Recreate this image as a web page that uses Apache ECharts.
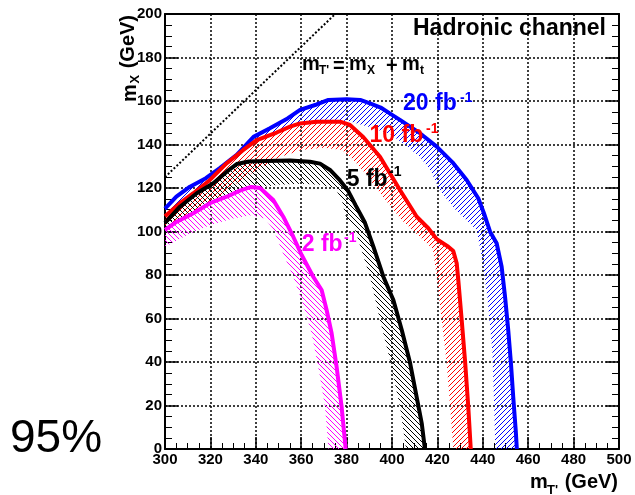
<!DOCTYPE html>
<html>
<head>
<meta charset="utf-8">
<script src="https://cdn.jsdelivr.net/npm/echarts@6/dist/echarts.min.js"></script>
<style>html,body{margin:0;padding:0;background:#fff;}#c{width:635px;height:495px;}</style>
</head>
<body>
<div id="c"></div>
<script>
// ---- data (mT', mX) in GeV ----
const xTicks = [300,320,340,360,380,400,420,440,460,480,500];
const yTicks = [0,20,40,60,80,100,120,140,160,180,200];
const lumiLabels = ['20 fb', '10 fb', '5 fb', '2 fb'];
const mTop = 175; // mT' = mX + mt
const diagLine = [[300, 300 - mTop], [375, 375 - mTop]];

const lim20 = [[300,110.5],[305,116],[311,120.6],[318,124.5],[324,129],[331.6,135.2],[339,143.5],[346,147.4],[354,152],[359.5,155.9],[366.8,158.4],[372,160.5],[380,160.8],[386,160.5],[390.3,158.9],[395,157],[399,154.3],[403.5,151.3],[412.3,145.2],[419.7,139],[427,131.4],[432.9,123.7],[438,115.3],[440.5,108.4],[443.2,99.9],[446.1,94.6],[448.3,83.8],[449.8,70],[451.2,54.7],[452.4,39.4],[453.4,24],[454.5,8.7],[455,0]];
const band20 = [[300,104],[310,110],[320,117],[330,125],[340,133],[350,140],[360,146],[370,149.5],[380,151],[390,148],[399,145],[405,140.5],[412.3,134.4],[417,128],[421,119],[428,110],[434,104],[437.3,100.7],[439.5,88.4],[442,70],[444.2,45],[445,20],[445.5,0]];

const lim10 = [[300,107],[306.6,113],[312.5,117.6],[319.8,123.7],[327.2,131.4],[334.5,137.5],[340.4,142],[349.2,145.5],[355.1,148.2],[359.5,149.7],[366.8,150.5],[377.1,150.5],[381.5,149],[387.4,143.3],[394.7,134.4],[403.5,119.1],[410.9,106.8],[416,101.5],[419.7,96.5],[424.8,93],[427,91],[428.5,85.4],[429.2,77.7],[430.7,59.3],[432.2,40.2],[433.6,19.4],[434.7,0]];
const band10 = [[300,101],[310,106],[320,113],[330,121],[340,128],[350,134],[360,137.5],[370,138.5],[378,137.5],[383,133],[388,127],[396,116],[404.3,105.3],[412.3,97.6],[418,92],[419.7,79.2],[421.9,59.3],[424.1,39.4],[425.6,19.4],[427,0]];

const lim5 = [[300,104],[306.6,111.4],[314,117.6],[321.3,122.2],[327.2,127.5],[331.6,131],[337,132.2],[344.8,132.4],[355.1,132.6],[363.9,132.1],[368.3,131.2],[372.7,128.3],[377.1,123.5],[380.5,119],[384,112],[388.1,104],[391.8,93],[396.2,79.2],[400.6,68.5],[404.3,54.7],[408,39.4],[411.7,19.4],[413.1,11.8],[414.5,0]];
const band5 = [[300,97],[310,104],[320,110],[330,116],[340,120],[350,121.5],[360,122],[368,121.5],[375,120],[378,114],[380,105.3],[383.7,101],[387,90],[390.3,79.2],[394.7,59.3],[399.1,40.9],[403.5,19.4],[406.2,0]];

const lim2 = [[300,100.7],[305.2,104.5],[312.5,108.4],[319.8,113],[327.2,116],[333,118.8],[338,120.5],[341.9,120],[347.7,114.5],[352.1,106.8],[356.5,97.6],[360.2,89.2],[365.3,79.2],[369,73.1],[371.2,63.9],[373.4,53.2],[375.6,37.8],[377.8,19.4],[379.6,0]];
const band2 = [[300,93],[310,98.5],[320,103],[330,106],[338,107.5],[344,106],[347.7,101],[352,90],[356.5,79.2],[361,66],[364.6,53.2],[368,35],[370.5,19.4],[372,0]];

// ---- styling ----
const FONT = "'Liberation Sans', Arial, Helvetica, sans-serif";
const BLUE = '#0000ff', RED = '#ff0000', BLACK = '#000000', MAG = '#ff00ff';

function hatch(color, dir) {
  const s = 5;
  const c = document.createElement('canvas');
  c.width = s; c.height = s;
  const g = c.getContext('2d');
  g.strokeStyle = color; g.lineWidth = 1;
  g.beginPath();
  if (dir === '/') {
    g.moveTo(0, s); g.lineTo(s, 0);
    g.moveTo(-1, 1); g.lineTo(1, -1);
    g.moveTo(s - 1, s + 1); g.lineTo(s + 1, s - 1);
  } else {
    g.moveTo(0, 0); g.lineTo(s, s);
    g.moveTo(s - 1, -1); g.lineTo(s + 1, 1);
    g.moveTo(-1, s - 1); g.lineTo(1, s + 1);
  }
  g.stroke();
  return { image: c, repeat: 'repeat' };
}

function bandSeries(outer, inner, color, dir) {
  const pat = hatch(color, dir);
  return {
    type: 'custom', coordinateSystem: 'cartesian2d', xAxisIndex: 0, yAxisIndex: 0,
    data: [[300, 0]], clip: true, silent: true, z: 2,
    renderItem: function (params, api) {
      const pts = outer.map(p => api.coord(p)).concat(inner.slice().reverse().map(p => api.coord(p)));
      return { type: 'polygon', shape: { points: pts }, style: { fill: pat, stroke: null } };
    }
  };
}
function lineSeries(data, color) {
  return {
    type: 'line', data: data, showSymbol: false, symbol: 'none', smooth: false, z: 3,
    lineStyle: { color: color, width: 4 }, silent: true, clip: true
  };
}

function txt(x, y, text, size, color, opts) {
  opts = opts || {};
  return {
    type: 'text', x: x, y: y, z: 100,
    style: {
      text: text, fill: color || '#000', fontSize: size, fontFamily: FONT,
      fontWeight: opts.normal ? 'normal' : 'bold',
      align: opts.align || 'left', verticalAlign: 'middle'
    }
  };
}

const axisBase = {
  type: 'value',
  axisLine: { show: true, onZero: false, lineStyle: { color: '#000', width: 2 } },
};
const gridStyle = { color: '#000', width: 1.5, type: [2, 2] };

const chart = echarts.init(document.getElementById('c'), null, { renderer: 'canvas' });
chart.setOption({
  animation: false,
  backgroundColor: '#fff',
  grid: { left: 165, right: 16, top: 14, bottom: 46, containLabel: false },
  xAxis: [
    Object.assign({}, axisBase, {
      min: xTicks[0], max: xTicks[xTicks.length - 1], interval: 20, position: 'bottom',
      axisTick: { show: true, inside: true, length: 12, lineStyle: { color: '#000', width: 1.5 } },
      minorTick: { show: true, splitNumber: 4, length: 6, lineStyle: { color: '#000', width: 1 } },
      axisLabel: { color: '#000', fontWeight: 'bold', fontSize: 15, fontFamily: FONT, margin: 3 },
      splitLine: { show: true, lineStyle: gridStyle }
    }),
    Object.assign({}, axisBase, {
      min: xTicks[0], max: xTicks[xTicks.length - 1], interval: 20, position: 'top',
      axisTick: { show: false }, axisLabel: { show: false }, splitLine: { show: false }
    })
  ],
  yAxis: [
    Object.assign({}, axisBase, {
      min: yTicks[0], max: yTicks[yTicks.length - 1], interval: 20, position: 'left',
      axisTick: { show: true, inside: true, length: 13, lineStyle: { color: '#000', width: 1.5 } },
      minorTick: { show: true, splitNumber: 4, length: 7, lineStyle: { color: '#000', width: 1 } },
      axisLabel: { color: '#000', fontWeight: 'bold', fontSize: 15, fontFamily: FONT, margin: 3 },
      splitLine: { show: true, lineStyle: gridStyle }
    }),
    Object.assign({}, axisBase, {
      min: yTicks[0], max: yTicks[yTicks.length - 1], interval: 20, position: 'right',
      axisTick: { show: true, inside: true, length: 13, lineStyle: { color: '#000', width: 1.5 } },
      minorTick: { show: true, splitNumber: 4, length: 7, lineStyle: { color: '#000', width: 1 } },
      axisLabel: { show: false }, splitLine: { show: false }
    })
  ],
  series: [
    bandSeries(lim20, band20, BLUE, '/'),
    bandSeries(lim10, band10, RED, '/'),
    bandSeries(lim5, band5, BLACK, '\\'),
    bandSeries(lim2, band2, MAG, '\\'),
    {
      type: 'line', data: diagLine, showSymbol: false, symbol: 'none', z: 3, silent: true,
      lineStyle: { color: '#000', width: 2, type: [2, 2] }
    },
    lineSeries(lim20, BLUE),
    lineSeries(lim10, RED),
    lineSeries(lim5, BLACK),
    lineSeries(lim2, MAG)
  ],
  graphic: [
    txt(413, 28.5, 'Hadronic channel', 23, '#000'),
    // formula mT' = mX + mt
    txt(302, 64, 'm', 20, '#000'),
    txt(319, 71, "T'", 12, '#000'),
    txt(333, 66, '=', 20, '#000'),
    txt(349, 64, 'm', 20, '#000'),
    txt(367, 71, 'X', 12, '#000'),
    txt(386, 66, '+', 20, '#000'),
    txt(402, 64, 'm', 20, '#000'),
    txt(420, 71, 't', 12, '#000'),
    // luminosity labels
    txt(403, 103.4, lumiLabels[0], 23, BLUE), txt(460, 98, '-1', 14, BLUE),
    txt(369.5, 136, lumiLabels[1], 23, RED), txt(426, 129, '-1', 14, RED),
    txt(346.7, 179.2, lumiLabels[2], 23, BLACK), txt(389, 172, '-1', 14, BLACK),
    txt(301.7, 245, lumiLabels[3], 23, MAG), txt(344, 238, '-1', 14, MAG),
    // x axis title
    txt(530, 482, 'm', 20, '#000'),
    txt(547, 490, "T'", 13, '#000'),
    txt(618, 482, '(GeV)', 20, '#000', { align: 'right' }),
    // y axis title (rotated)
    {
      type: 'group', x: 128, y: 102, rotation: Math.PI / 2, z: 100,
      children: [
        txt(0, 2, 'm', 20, '#000'),
        txt(18.5, 7, 'X', 13, '#000'),
        txt(87, 0, '(GeV)', 20, '#000', { align: 'right' })
      ]
    },
    txt(10, 439, '95%', 46, '#000', { normal: true })
  ]
});
</script>
</body>
</html>
